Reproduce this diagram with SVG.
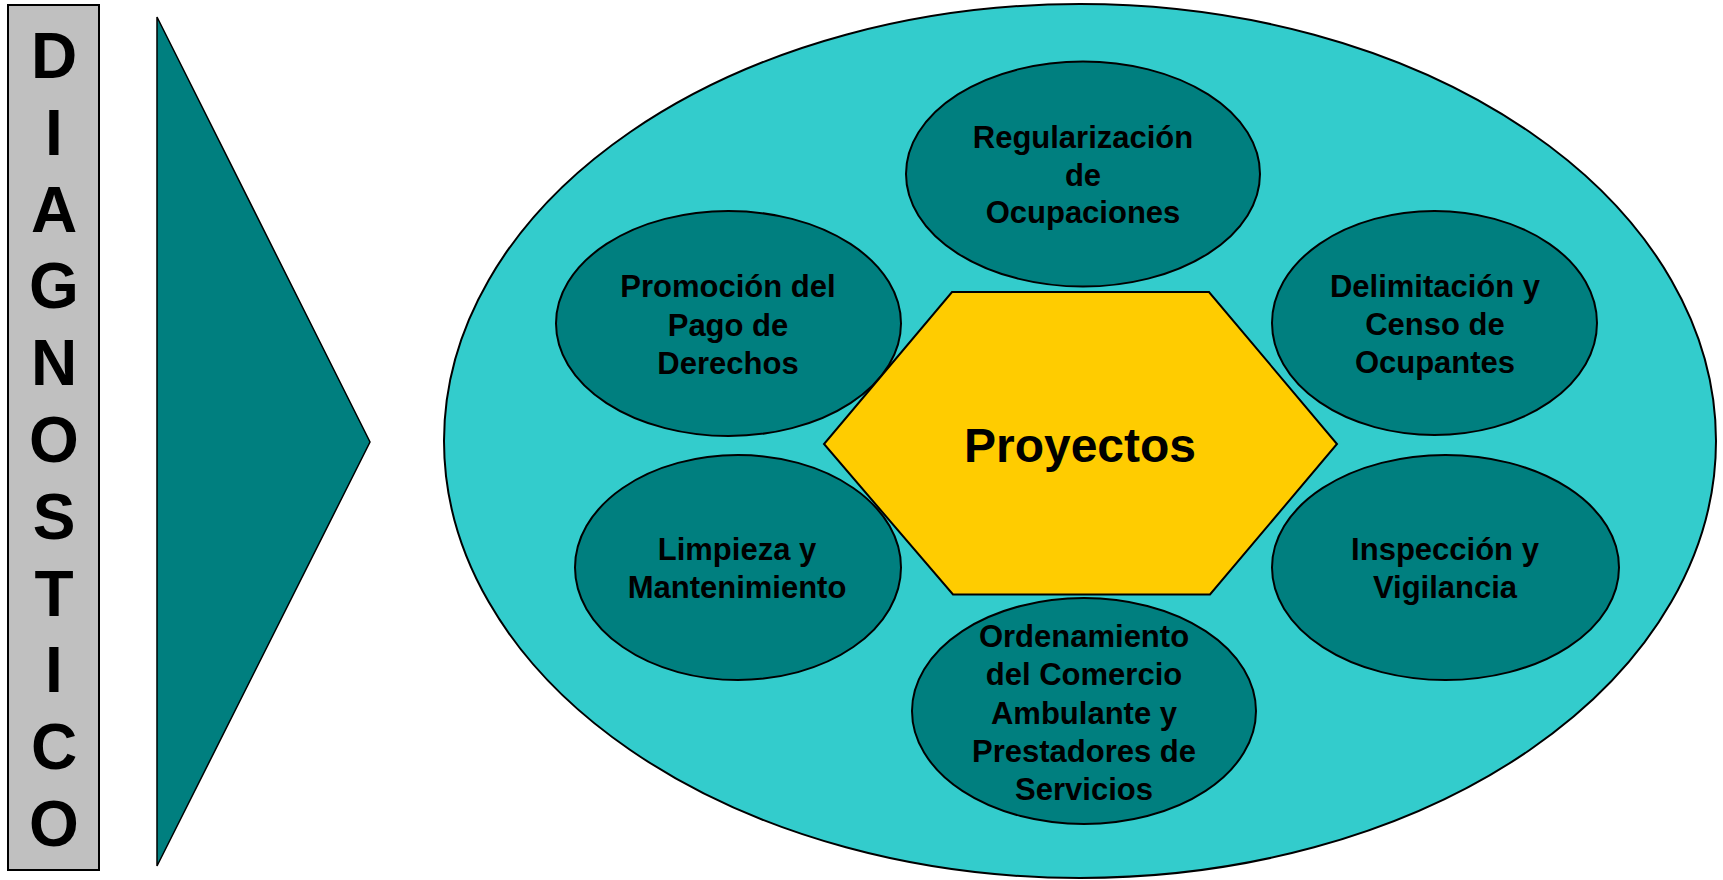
<svg xmlns="http://www.w3.org/2000/svg" width="1723" height="880" viewBox="0 0 1723 880">
<style>
.lbl{font-family:"Liberation Sans",Arial,sans-serif;font-weight:bold;fill:#000;text-anchor:middle}
.node{fill:#007F7F;stroke:#000;stroke-width:2}
.diag{font-size:64px}
.t{font-size:31px}
</style>
<rect width="1723" height="880" fill="#FFFFFF"/>
<g id="diagnostico">
<rect x="8" y="5" width="91" height="865" fill="#C0C0C0" stroke="#000" stroke-width="2"/>
<text class="lbl diag" x="54" y="78">D</text>
<text class="lbl diag" x="54" y="155">I</text>
<text class="lbl diag" x="54" y="232">A</text>
<text class="lbl diag" x="54" y="308">G</text>
<text class="lbl diag" x="54" y="385">N</text>
<text class="lbl diag" x="54" y="462">O</text>
<text class="lbl diag" x="54" y="539">S</text>
<text class="lbl diag" x="54" y="616">T</text>
<text class="lbl diag" x="54" y="692">I</text>
<text class="lbl diag" x="54" y="769">C</text>
<text class="lbl diag" x="54" y="846">O</text>
</g>
<g id="arrow">
<polygon points="157,17 370,442 157,866" fill="#007F7F" stroke="#000" stroke-width="1.5"/>
</g>
<g id="outer">
<ellipse cx="1080" cy="441" rx="636" ry="437" fill="#33CCCC" stroke="#000" stroke-width="2"/>
</g>
<g id="connectors"></g>
<g id="regularizacion">
<ellipse class="node" cx="1083" cy="174" rx="177" ry="112.5"/>
<text class="lbl t" x="1083" y="148">Regularización</text>
<text class="lbl t" x="1083" y="186">de</text>
<text class="lbl t" x="1083" y="223">Ocupaciones</text>
</g>
<g id="promocion">
<ellipse class="node" cx="728.5" cy="323.5" rx="172.5" ry="112.5"/>
<text class="lbl t" x="728" y="297">Promoción del</text>
<text class="lbl t" x="728" y="335.5">Pago de</text>
<text class="lbl t" x="728" y="374">Derechos</text>
</g>
<g id="delimitacion">
<ellipse class="node" cx="1434.5" cy="323" rx="162.5" ry="112"/>
<text class="lbl t" x="1435" y="297">Delimitación y</text>
<text class="lbl t" x="1435" y="335">Censo de</text>
<text class="lbl t" x="1435" y="373">Ocupantes</text>
</g>
<g id="limpieza">
<ellipse class="node" cx="738" cy="567.5" rx="163" ry="112.5"/>
<text class="lbl t" x="737" y="560">Limpieza y</text>
<text class="lbl t" x="737" y="598">Mantenimiento</text>
</g>
<g id="inspeccion">
<ellipse class="node" cx="1445.5" cy="567.5" rx="173.5" ry="112.5"/>
<text class="lbl t" x="1445" y="560">Inspección y</text>
<text class="lbl t" x="1445" y="598">Vigilancia</text>
</g>
<g id="ordenamiento">
<ellipse class="node" cx="1084" cy="711" rx="172" ry="113"/>
<text class="lbl t" x="1084" y="646.5">Ordenamiento</text>
<text class="lbl t" x="1084" y="685">del Comercio</text>
<text class="lbl t" x="1084" y="723.5">Ambulante y</text>
<text class="lbl t" x="1084" y="762">Prestadores de</text>
<text class="lbl t" x="1084" y="800">Servicios</text>
</g>
<g id="proyectos">
<polygon points="952,292 1209,292 1337,444 1210,594.5 953,594.5 824,444" fill="#FFCC00" stroke="#000" stroke-width="2"/>
<text class="lbl" x="1080" y="462" font-size="48">Proyectos</text>
</g>
</svg>
